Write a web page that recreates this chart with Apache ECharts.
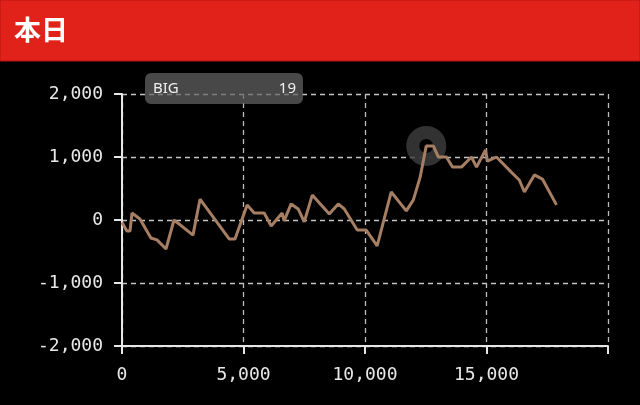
<!DOCTYPE html>
<html>
<head>
<meta charset="utf-8">
<script src="https://cdn.jsdelivr.net/npm/echarts@6/dist/echarts.min.js"></script>
<style>
html,body{margin:0;padding:0;background:#000;}
#chart{width:640px;height:405px;}
</style>
</head>
<body>
<div id="chart"></div>
<script>
var titleText = '本日';
var tipLabel = 'BIG';
var tipValue = '19';
var xTicks = [0, 5000, 10000, 15000, 20000];
var yTicks = [-2000, -1000, 0, 1000, 2000];
var xValues = [0, 200, 330, 410, 740, 1190, 1440, 1810, 2140, 2600, 2920, 3210, 4410, 4650, 5150, 5440, 5850, 6140, 6590, 6670, 6960, 7250, 7500, 7830, 8530, 8900, 9150, 9680, 10050, 10500, 11080, 11700, 11990, 12270, 12520, 12810, 13020, 13350, 13600, 13970, 14380, 14590, 14960, 15040, 15410, 16020, 16350, 16560, 16970, 17300, 17880];
var yValues = [-40, -175, -175, 110, 15, -285, -315, -460, 0, -140, -240, 330, -300, -300, 240, 110, 110, -95, 110, -15, 255, 175, -30, 395, 95, 255, 175, -160, -160, -410, 445, 145, 320, 680, 1175, 1175, 1000, 1000, 840, 840, 1000, 840, 1110, 935, 1000, 760, 635, 445, 715, 650, 240];
var highlightIndex = 34;

var lineData = xValues.map(function (x, i) { return [x, yValues[i]]; });
var font = '"DejaVu Sans Mono", monospace';

var chart = echarts.init(document.getElementById('chart'), null, {renderer: 'canvas'});
chart.setOption({
  backgroundColor: '#000',
  animation: false,
  grid: {left: 122, right: 32, top: 94, bottom: 59},
  xAxis: {
    type: 'value',
    min: xTicks[0], max: xTicks[xTicks.length - 1], interval: 5000,
    axisLine: {show: true, onZero: false, lineStyle: {color: '#e6e6e6', width: 2}},
    axisTick: {show: true, length: 8, lineStyle: {color: '#e6e6e6', width: 2}},
    axisLabel: {
      color: '#e8e8e8', fontFamily: font, fontSize: 18, margin: 20,
      formatter: function (v) { return v === xTicks[xTicks.length - 1] ? '' : echarts.format.addCommas(v); }
    },
    splitLine: {show: true, lineStyle: {color: '#bdbdbd', type: [5, 4], width: 1.3}}
  },
  yAxis: {
    type: 'value',
    min: yTicks[0], max: yTicks[yTicks.length - 1], interval: 1000,
    axisLine: {show: true, onZero: false, lineStyle: {color: '#e6e6e6', width: 2}},
    axisTick: {show: true, length: 8, lineStyle: {color: '#e6e6e6', width: 2}},
    axisLabel: {color: '#e8e8e8', fontFamily: font, fontSize: 18, margin: 19},
    splitLine: {show: true, lineStyle: {color: '#c4c4c4', type: [5, 4], width: 1.4}}
  },
  series: [
    {
      type: 'scatter', z: 1,
      data: [lineData[highlightIndex]],
      symbol: 'circle', symbolSize: 27,
      itemStyle: {color: '#000', borderColor: '#3e3e3e', borderWidth: 13},
      silent: true
    },
    {
      type: 'line', z: 3,
      data: lineData,
      showSymbol: false,
      lineStyle: {color: '#a67e64', width: 3},
      itemStyle: {color: '#a67e64'}
    }
  ],
  graphic: [
    {type: 'rect', shape: {x: 0, y: 0, width: 640, height: 61}, style: {fill: '#e0221a', stroke: '#b51510', lineWidth: 1}, z: 10},
    {type: 'text', left: 14, top: 16, z: 11,
      style: {text: titleText, fill: '#fff', font: 'bold 27px "Noto Sans CJK JP"',
        shadowColor: 'rgba(0,0,0,0.7)', shadowOffsetX: 2, shadowOffsetY: 2, shadowBlur: 2}},
    {type: 'rect', shape: {x: 145, y: 73, width: 158, height: 31, r: 6}, style: {fill: 'rgba(100,100,100,0.72)'}, z: 10},
    {type: 'text', x: 153, y: 89, z: 11,
      style: {text: tipLabel, fill: '#f0f0f0', font: '15px "Noto Sans"', textVerticalAlign: 'middle'}},
    {type: 'text', x: 296, y: 89, z: 11,
      style: {text: tipValue, fill: '#f0f0f0', font: '15px "Noto Sans"', textAlign: 'right', textVerticalAlign: 'middle'}}
  ]
});
</script>
</body>
</html>
